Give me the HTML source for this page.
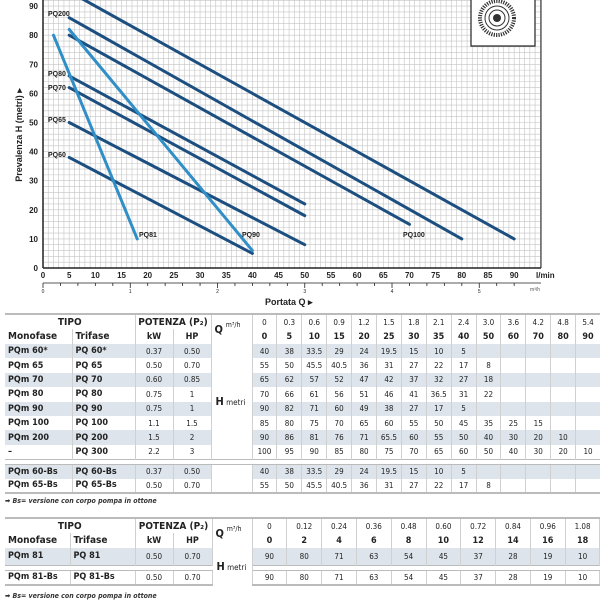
<!DOCTYPE html>
<html><head><meta charset="utf-8"><style>
body{margin:0;width:600px;height:600px;background:#fff;overflow:hidden;position:relative;font-family:"Liberation Sans",Arial,sans-serif}
table{position:absolute;border-collapse:collapse;table-layout:fixed;font-family:"DejaVu Sans Condensed","Liberation Sans",sans-serif;color:#222}
td{padding:0;text-align:center;font-size:8px;border-right:1px solid #d0d0d0;white-space:nowrap;overflow:hidden}
td.l{text-align:left;font-weight:bold;font-size:9px;padding-left:3px}
tr.s td.v,tr.s td.l,tr.s td.p{background:#dde4eb}
tr.h td{font-weight:bold;font-size:9px}
tr.h td.n{font-weight:normal;font-size:8px}
tr.b td.v{font-weight:bold}
tr.bot td{border-bottom:2px solid #bbb}
tr.top td{border-top:2px solid #bbb}
tr.g td{height:4px;border-top:1px solid #bbb;border-bottom:1px solid #bbb;border-right:none}
.note{position:absolute;left:5px;font-size:7px;font-style:italic;font-weight:bold;color:#333;font-family:"DejaVu Sans Condensed","Liberation Sans",sans-serif}
</style></head><body>
<svg width="600" height="310" style="position:absolute;left:0;top:0" font-family="Liberation Sans,Arial,sans-serif">
<g id="grid" stroke="#c4c4c4" stroke-width="0.6"></g>
<line x1="43" y1="0" x2="43" y2="268" stroke="#222" stroke-width="1.5"/>
<line x1="43" y1="268" x2="541" y2="268" stroke="#222" stroke-width="1.5"/>
<line x1="541" y1="0" x2="541" y2="268" stroke="#222" stroke-width="1"/>
<line x1="43" y1="283" x2="541" y2="283" stroke="#222" stroke-width="0.8"/>
<g id="ticks" stroke="#222" stroke-width="0.8"></g>
<g id="lbl" font-size="8" font-weight="bold" fill="#222"></g>
<text x="536" y="278" font-size="8" font-weight="bold" fill="#222">l/min</text>
<text x="530" y="291" font-size="5" fill="#555">m³/h</text>
<text x="265" y="305" font-size="9" font-weight="bold" fill="#222">Portata Q ▸</text>
<text transform="translate(22,135) rotate(-90)" text-anchor="middle" font-size="9" font-weight="bold" fill="#222">Prevalenza H (metri) ▸</text>
<rect x="471" y="-2" width="64" height="48" fill="#fff" stroke="#222" stroke-width="1.2"/>
<circle cx="497" cy="18" r="17" fill="none" stroke="#333" stroke-width="4" stroke-dasharray="1.2 1.2"/>
<circle cx="497" cy="18" r="12" fill="#fff" stroke="#333" stroke-width="1"/>
<circle cx="497" cy="18" r="8" fill="none" stroke="#333" stroke-width="1"/>
<circle cx="497" cy="18" r="4" fill="#333"/>
<g id="lines" stroke-width="3" stroke-linecap="round" fill="none"></g>
<g font-size="7" font-weight="bold" fill="#222">
<text x="48" y="16">PQ200</text><text x="48" y="76">PQ80</text><text x="48" y="90">PQ70</text>
<text x="48" y="122">PQ65</text><text x="48" y="157">PQ60</text>
<text x="139" y="237">PQ81</text><text x="242" y="237">PQ90</text><text x="403" y="237">PQ100</text>
</g>
</svg>
<script>
var ns="http://www.w3.org/2000/svg";
function X(q){return 43+q*5.235}function Y(h){return 268-h*2.91}
function el(p,t,a){var e=document.createElementNS(ns,t);for(var k in a)e.setAttribute(k,a[k]);document.getElementById(p).appendChild(e);return e}
for(var q=1;q<=95;q++)el("grid","line",{x1:X(q),y1:0,x2:X(q),y2:268});
for(var h=2;h<=94;h+=2)el("grid","line",{x1:43,y1:Y(h),x2:541,y2:Y(h)});
for(var i=0;i<=18;i++){var t=el("lbl","text",{x:X(i*5),y:278,"text-anchor":"middle"});t.textContent=i*5;}
for(var i=0;i<=9;i++){var t=el("lbl","text",{x:38,y:Y(i*10)+3,"text-anchor":"end"});t.textContent=i*10;}
for(var m=0;m<=5.6;m+=0.2){el("ticks","line",{x1:X(m*16.667),y1:283,x2:X(m*16.667),y2:Math.abs(m-Math.round(m))<0.01?288:286});}
for(var m=0;m<=5;m++){var t=el("lbl","text",{x:X(m*16.667),y:293,"text-anchor":"middle","font-size":"5","font-weight":"normal"});t.textContent=m;}
var D="#1c4f80",L="#2f8fc6";
[[5,95,90,10,D],[5,86,80,10,D],[5,80,70,15,D],[5,66,50,22,D],[5,62,50,18,D],[5,50,50,8,D],[5,38,40,5,D],[5,82,40,6,L],[2,80,18,10,L]].forEach(function(a){el("lines","line",{x1:X(a[0]),y1:Y(a[1]),x2:X(a[2]),y2:Y(a[3]),stroke:a[4]});});
</script>

<table style="left:5px;top:313px;width:595px">
<colgroup><col style="width:67px"><col style="width:63px"><col style="width:38px"><col style="width:38px"><col style="width:41px"><col span="14" style="width:24.9px"></colgroup>
<tr class="h top" style="height:15px"><td colspan="2" style="font-size:10px">TIPO</td><td colspan="2" style="font-size:10px">POTENZA (P₂)</td><td rowspan="2" style="text-align:left;padding-left:3px"><b style="font-size:11px">Q</b> <span style="font-weight:normal;font-size:7px;position:relative;top:-6px">m³/h</span></td>
<td class="n">0</td><td class="n">0.3</td><td class="n">0.6</td><td class="n">0.9</td><td class="n">1.2</td><td class="n">1.5</td><td class="n">1.8</td><td class="n">2.1</td><td class="n">2.4</td><td class="n">3.0</td><td class="n">3.6</td><td class="n">4.2</td><td class="n">4.8</td><td class="n">5.4</td></tr>
<tr class="h b" style="height:15px"><td class="l" style="font-size:10px">Monofase</td><td class="l" style="font-size:10px">Trifase</td><td>kW</td><td>HP</td>
<td class="v">0</td><td class="v">5</td><td class="v">10</td><td class="v">15</td><td class="v">20</td><td class="v">25</td><td class="v">30</td><td class="v">35</td><td class="v">40</td><td class="v">50</td><td class="v">60</td><td class="v">70</td><td class="v">80</td><td class="v">90</td></tr>
<tr class="s" style="height:14.4px"><td class="l">PQm 60*</td><td class="l">PQ 60*</td><td class="p">0.37</td><td class="p">0.50</td><td rowspan="8" style="text-align:left;padding-left:4px"><b style="font-size:11px">H</b> <span style="font-size:8px">metri</span></td><td class="v">40</td><td class="v">38</td><td class="v">33.5</td><td class="v">29</td><td class="v">24</td><td class="v">19.5</td><td class="v">15</td><td class="v">10</td><td class="v">5</td><td class="v"></td><td class="v"></td><td class="v"></td><td class="v"></td><td class="v"></td></tr>
<tr style="height:14.4px"><td class="l">PQm 65</td><td class="l">PQ 65</td><td>0.50</td><td>0.70</td><td>55</td><td>50</td><td>45.5</td><td>40.5</td><td>36</td><td>31</td><td>27</td><td>22</td><td>17</td><td>8</td><td></td><td></td><td></td><td></td></tr>
<tr class="s" style="height:14.4px"><td class="l">PQm 70</td><td class="l">PQ 70</td><td class="p">0.60</td><td class="p">0.85</td><td class="v">65</td><td class="v">62</td><td class="v">57</td><td class="v">52</td><td class="v">47</td><td class="v">42</td><td class="v">37</td><td class="v">32</td><td class="v">27</td><td class="v">18</td><td class="v"></td><td class="v"></td><td class="v"></td><td class="v"></td></tr>
<tr style="height:14.4px"><td class="l">PQm 80</td><td class="l">PQ 80</td><td>0.75</td><td>1</td><td>70</td><td>66</td><td>61</td><td>56</td><td>51</td><td>46</td><td>41</td><td>36.5</td><td>31</td><td>22</td><td></td><td></td><td></td><td></td></tr>
<tr class="s" style="height:14.4px"><td class="l">PQm 90</td><td class="l">PQ 90</td><td class="p">0.75</td><td class="p">1</td><td class="v">90</td><td class="v">82</td><td class="v">71</td><td class="v">60</td><td class="v">49</td><td class="v">38</td><td class="v">27</td><td class="v">17</td><td class="v">5</td><td class="v"></td><td class="v"></td><td class="v"></td><td class="v"></td><td class="v"></td></tr>
<tr style="height:14.4px"><td class="l">PQm 100</td><td class="l">PQ 100</td><td>1.1</td><td>1.5</td><td>85</td><td>80</td><td>75</td><td>70</td><td>65</td><td>60</td><td>55</td><td>50</td><td>45</td><td>35</td><td>25</td><td>15</td><td></td><td></td></tr>
<tr class="s" style="height:14.4px"><td class="l">PQm 200</td><td class="l">PQ 200</td><td class="p">1.5</td><td class="p">2</td><td class="v">90</td><td class="v">86</td><td class="v">81</td><td class="v">76</td><td class="v">71</td><td class="v">65.5</td><td class="v">60</td><td class="v">55</td><td class="v">50</td><td class="v">40</td><td class="v">30</td><td class="v">20</td><td class="v">10</td><td class="v"></td></tr>
<tr style="height:14.4px"><td class="l">–</td><td class="l">PQ 300</td><td>2.2</td><td>3</td><td>100</td><td>95</td><td>90</td><td>85</td><td>80</td><td>75</td><td>70</td><td>65</td><td>60</td><td>50</td><td>40</td><td>30</td><td>20</td><td>10</td></tr>
<tr class="g"><td colspan="19"></td></tr>
<tr class="s" style="height:14.4px"><td class="l">PQm 60-Bs</td><td class="l">PQ 60-Bs</td><td class="p">0.37</td><td class="p">0.50</td><td></td><td class="v">40</td><td class="v">38</td><td class="v">33.5</td><td class="v">29</td><td class="v">24</td><td class="v">19.5</td><td class="v">15</td><td class="v">10</td><td class="v">5</td><td class="v"></td><td class="v"></td><td class="v"></td><td class="v"></td><td class="v"></td></tr>
<tr class="bot" style="height:14.4px"><td class="l">PQm 65-Bs</td><td class="l">PQ 65-Bs</td><td>0.50</td><td>0.70</td><td></td><td>55</td><td>50</td><td>45.5</td><td>40.5</td><td>36</td><td>31</td><td>27</td><td>22</td><td>17</td><td>8</td><td></td><td></td><td></td><td></td></tr>
</table>
<div class="note" style="top:497px">➡ Bs= versione con corpo pompa in ottone</div>

<table style="left:5px;top:517px;width:595px">
<colgroup><col style="width:65px"><col style="width:65px"><col style="width:38px"><col style="width:39px"><col style="width:40px"><col span="10" style="width:34.8px"></colgroup>
<tr class="h top" style="height:15px"><td colspan="2" style="font-size:10px">TIPO</td><td colspan="2" style="font-size:10px">POTENZA (P₂)</td><td rowspan="2" style="text-align:left;padding-left:3px"><b style="font-size:11px">Q</b> <span style="font-weight:normal;font-size:7px;position:relative;top:-6px">m³/h</span></td>
<td class="n">0</td><td class="n">0.12</td><td class="n">0.24</td><td class="n">0.36</td><td class="n">0.48</td><td class="n">0.60</td><td class="n">0.72</td><td class="n">0.84</td><td class="n">0.96</td><td class="n">1.08</td></tr>
<tr class="h b" style="height:15px"><td class="l" style="font-size:10px">Monofase</td><td class="l" style="font-size:10px">Trifase</td><td>kW</td><td>HP</td>
<td class="v">0</td><td class="v">2</td><td class="v">4</td><td class="v">6</td><td class="v">8</td><td class="v">10</td><td class="v">12</td><td class="v">14</td><td class="v">16</td><td class="v">18</td></tr>
<tr class="s" style="height:17px"><td class="l">PQm 81</td><td class="l">PQ 81</td><td class="p">0.50</td><td class="p">0.70</td><td rowspan="3" style="text-align:left;padding-left:4px"><b style="font-size:11px">H</b> <span style="font-size:8px">metri</span></td><td class="v">90</td><td class="v">80</td><td class="v">71</td><td class="v">63</td><td class="v">54</td><td class="v">45</td><td class="v">37</td><td class="v">28</td><td class="v">19</td><td class="v">10</td></tr>
<tr class="g"><td colspan="4"></td><td colspan="10"></td></tr>
<tr class="bot" style="height:15px"><td class="l">PQm 81-Bs</td><td class="l">PQ 81-Bs</td><td>0.50</td><td>0.70</td><td>90</td><td>80</td><td>71</td><td>63</td><td>54</td><td>45</td><td>37</td><td>28</td><td>19</td><td>10</td></tr>
</table>
<div class="note" style="top:592px">➡ Bs= versione con corpo pompa in ottone</div>
</body></html>
